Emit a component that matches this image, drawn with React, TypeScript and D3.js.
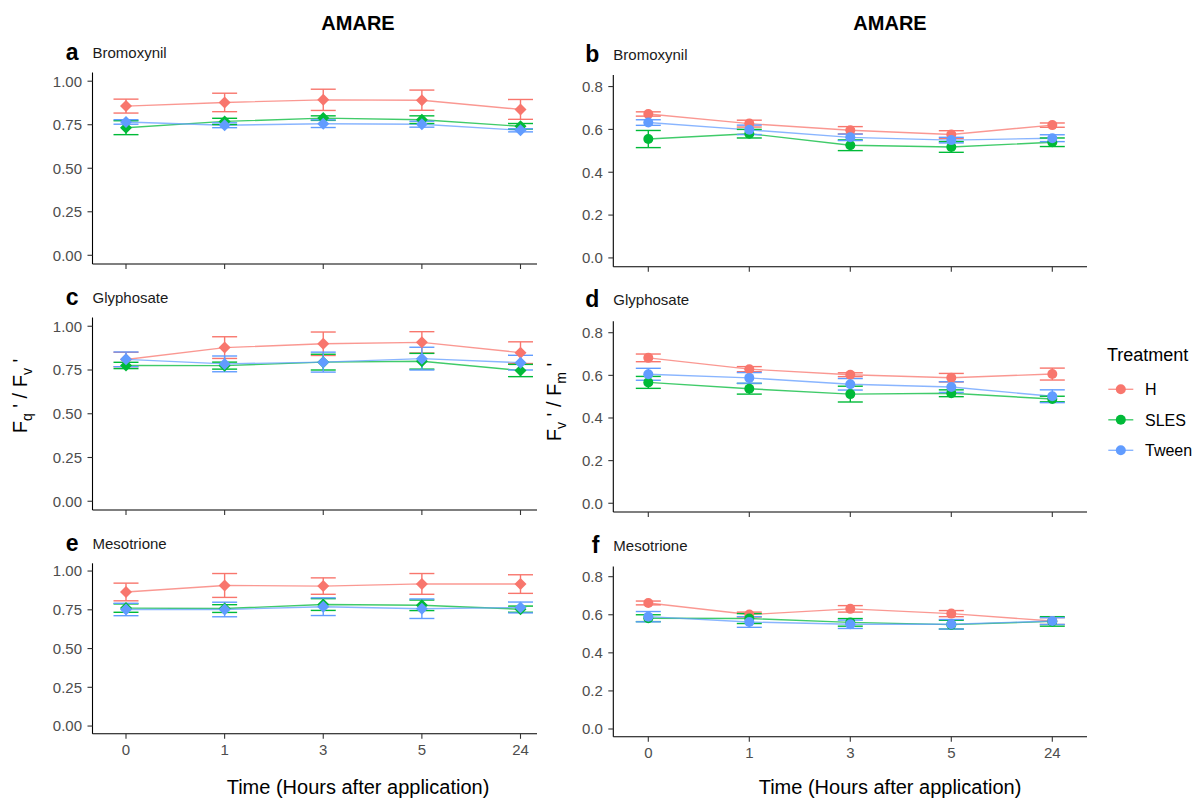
import React from "react";
import * as d3 from "d3";

// Sampling times (hours after application) and treatment groups
const timePoints = ["0", "1", "3", "5", "24"];
const treatments = ["H", "SLES", "Tween"];
const treatmentColors = ["#F8766D", "#00BA38", "#619CFF"];

// Fq'/Fv' means and standard errors — Bromoxynil
const bromFqH = [0.857, 0.878, 0.893, 0.891, 0.838];
const bromFqHse = [0.04, 0.053, 0.061, 0.058, 0.057];
const bromFqSLES = [0.733, 0.769, 0.788, 0.779, 0.741];
const bromFqSLESse = [0.04, 0.018, 0.013, 0.022, 0.016];
const bromFqTween = [0.766, 0.747, 0.756, 0.753, 0.718];
const bromFqTweense = [0.013, 0.014, 0.022, 0.017, 0.009];

// Fq'/Fv' — Glyphosate
const glyFqH = [0.81, 0.878, 0.9, 0.908, 0.849];
const glyFqHse = [0.041, 0.062, 0.067, 0.061, 0.062];
const glyFqSLES = [0.776, 0.775, 0.795, 0.8, 0.747];
const glyFqSLESse = [0.018, 0.02, 0.045, 0.045, 0.035];
const glyFqTween = [0.811, 0.785, 0.795, 0.815, 0.792];
const glyFqTweense = [0.042, 0.045, 0.057, 0.065, 0.042];

// Fq'/Fv' — Mesotrione
const mesoFqH = [0.865, 0.907, 0.903, 0.917, 0.916];
const mesoFqHse = [0.057, 0.077, 0.053, 0.067, 0.06];
const mesoFqSLES = [0.761, 0.758, 0.784, 0.779, 0.754];
const mesoFqSLESse = [0.027, 0.025, 0.038, 0.034, 0.02];
const mesoFqTween = [0.752, 0.752, 0.77, 0.757, 0.765];
const mesoFqTweense = [0.04, 0.047, 0.057, 0.063, 0.035];

// Fv'/Fm' — Bromoxynil
const bromFvH = [0.672, 0.627, 0.596, 0.576, 0.62];
const bromFvHse = [0.01, 0.016, 0.017, 0.018, 0.01];
const bromFvSLES = [0.555, 0.58, 0.526, 0.518, 0.54];
const bromFvSLESse = [0.04, 0.02, 0.025, 0.025, 0.02];
const bromFvTween = [0.632, 0.598, 0.563, 0.55, 0.559];
const bromFvTweense = [0.013, 0.022, 0.015, 0.013, 0.016];

// Fv'/Fm' — Glyphosate
const glyFvH = [0.682, 0.629, 0.603, 0.589, 0.606];
const glyFvHse = [0.018, 0.012, 0.009, 0.02, 0.028];
const glyFvSLES = [0.567, 0.537, 0.512, 0.516, 0.489];
const glyFvSLESse = [0.028, 0.025, 0.037, 0.016, 0.013];
const glyFvTween = [0.605, 0.588, 0.558, 0.545, 0.502];
const glyFvTweense = [0.028, 0.025, 0.027, 0.025, 0.03];

// Fv'/Fm' — Mesotrione
const mesoFvH = [0.662, 0.601, 0.631, 0.606, 0.567];
const mesoFvHse = [0.01, 0.013, 0.017, 0.016, 0.018];
const mesoFvSLES = [0.582, 0.58, 0.56, 0.548, 0.565];
const mesoFvSLESse = [0.018, 0.026, 0.02, 0.023, 0.025];
const mesoFvTween = [0.59, 0.562, 0.55, 0.55, 0.567];
const mesoFvTweense = [0.027, 0.028, 0.022, 0.025, 0.018];

// Axis ticks
const fqTicks = [0, 0.25, 0.5, 0.75, 1.0];
const fvTicks = [0, 0.2, 0.4, 0.6, 0.8];

const FONT = "'Liberation Sans', Arial, Helvetica, sans-serif";

type Series = { mean: number[]; se: number[] };
type Panel = {
  letter: string;
  herbicide: string;
  series: Series[];
  x0: number;
  x1: number;
  xFirst: number;
  xLast: number;
  yTop: number;
  yBottom: number;
  domain: [number, number];
  ticks: number[];
  fmt: string;
  shape: "diamond" | "circle";
  showXLabels: boolean;
  labelBaseline: number;
};

const leftCol = { x0: 92.5, x1: 537, xFirst: 126, xLast: 520.5, shape: "diamond" as const };
const rightCol = { x0: 613.3, x1: 1087, xFirst: 648.3, xLast: 1052.3, shape: "circle" as const };

const panels: Panel[] = [
  {
    ...leftCol, letter: "a", herbicide: "Bromoxynil",
    series: [
      { mean: bromFqH, se: bromFqHse },
      { mean: bromFqSLES, se: bromFqSLESse },
      { mean: bromFqTween, se: bromFqTweense },
    ],
    yTop: 72.5, yBottom: 264, domain: [-0.05, 1.05], ticks: fqTicks, fmt: ".2f",
    showXLabels: false, labelBaseline: 58,
  },
  {
    ...leftCol, letter: "c", herbicide: "Glyphosate",
    series: [
      { mean: glyFqH, se: glyFqHse },
      { mean: glyFqSLES, se: glyFqSLESse },
      { mean: glyFqTween, se: glyFqTweense },
    ],
    yTop: 317.5, yBottom: 510, domain: [-0.05, 1.05], ticks: fqTicks, fmt: ".2f",
    showXLabels: false, labelBaseline: 303,
  },
  {
    ...leftCol, letter: "e", herbicide: "Mesotrione",
    series: [
      { mean: mesoFqH, se: mesoFqHse },
      { mean: mesoFqSLES, se: mesoFqSLESse },
      { mean: mesoFqTween, se: mesoFqTweense },
    ],
    yTop: 563.3, yBottom: 733.8, domain: [-0.05, 1.05], ticks: fqTicks, fmt: ".2f",
    showXLabels: true, labelBaseline: 548.5,
  },
  {
    ...rightCol, letter: "b", herbicide: "Bromoxynil",
    series: [
      { mean: bromFvH, se: bromFvHse },
      { mean: bromFvSLES, se: bromFvSLESse },
      { mean: bromFvTween, se: bromFvTweense },
    ],
    yTop: 75, yBottom: 266.7, domain: [-0.041, 0.854], ticks: fvTicks, fmt: ".1f",
    showXLabels: false, labelBaseline: 59.5,
  },
  {
    ...rightCol, letter: "d", herbicide: "Glyphosate",
    series: [
      { mean: glyFvH, se: glyFvHse },
      { mean: glyFvSLES, se: glyFvSLESse },
      { mean: glyFvTween, se: glyFvTweense },
    ],
    yTop: 321.2, yBottom: 512, domain: [-0.041, 0.854], ticks: fvTicks, fmt: ".1f",
    showXLabels: false, labelBaseline: 305,
  },
  {
    ...rightCol, letter: "f", herbicide: "Mesotrione",
    series: [
      { mean: mesoFvH, se: mesoFvHse },
      { mean: mesoFvSLES, se: mesoFvSLESse },
      { mean: mesoFvTween, se: mesoFvTweense },
    ],
    yTop: 566.4, yBottom: 736.8, domain: [-0.041, 0.854], ticks: fvTicks, fmt: ".1f",
    showXLabels: true, labelBaseline: 551,
  },
];

function Marker({ x, y, shape, color }: { x: number; y: number; shape: string; color: string }) {
  if (shape === "diamond") {
    const r = 6;
    return <path d={`M${x},${y - r}L${x + r},${y}L${x},${y + r}L${x - r},${y}Z`} fill={color} />;
  }
  return <circle cx={x} cy={y} r={5} fill={color} />;
}

function PanelView({ p }: { p: Panel }) {
  const x = d3.scalePoint<string>().domain(timePoints).range([p.xFirst, p.xLast]);
  const y = d3.scaleLinear().domain(p.domain).range([p.yBottom, p.yTop]);
  const fmt = d3.format(p.fmt);
  const capHalf = 12.5;
  const tickLen = 5;

  const line = d3
    .line<number>()
    .x((_, i) => x(timePoints[i]) as number)
    .y((d) => y(d));

  return (
    <g>
      {/* panel letter and herbicide name */}
      <text x={p.x0 - 14} y={p.labelBaseline + 2} textAnchor="end" fontFamily={FONT} fontWeight="bold" fontSize={23} fill="#000">
        {p.letter}
      </text>
      <text x={p.x0} y={p.labelBaseline} fontFamily={FONT} fontSize={15} fill="#1a1a1a">
        {p.herbicide}
      </text>

      {/* y axis */}
      <line x1={p.x0} x2={p.x0} y1={p.yTop} y2={p.yBottom} stroke="#000" strokeWidth={1.1} />
      {p.ticks.map((t) => (
        <g key={t}>
          <line x1={p.x0 - tickLen} x2={p.x0} y1={y(t)} y2={y(t)} stroke="#333" strokeWidth={1.1} />
          <text x={p.x0 - 10.5} y={y(t)} dy="0.36em" textAnchor="end" fontFamily={FONT} fontSize={15} fill="#4D4D4D">
            {fmt(t)}
          </text>
        </g>
      ))}

      {/* x axis */}
      <line x1={p.x0} x2={p.x1} y1={p.yBottom} y2={p.yBottom} stroke="#000" strokeWidth={1.1} />
      {timePoints.map((t) => (
        <g key={t}>
          <line x1={x(t)} x2={x(t)} y1={p.yBottom} y2={p.yBottom + tickLen} stroke="#333" strokeWidth={1.1} />
          {p.showXLabels && (
            <text x={x(t)} y={p.yBottom + 21} textAnchor="middle" fontFamily={FONT} fontSize={15} fill="#4D4D4D">
              {t}
            </text>
          )}
        </g>
      ))}

      {/* connecting lines */}
      {p.series.map((s, i) => (
        <path key={`l${i}`} d={line(s.mean) || ""} fill="none" stroke={treatmentColors[i]} strokeWidth={1.4} strokeOpacity={0.75} />
      ))}

      {/* error bars */}
      {p.series.map((s, i) =>
        s.mean.map((m, j) => {
          const cx = x(timePoints[j]) as number;
          const yHi = y(m + s.se[j]);
          const yLo = y(m - s.se[j]);
          return (
            <g key={`e${i}-${j}`} stroke={treatmentColors[i]} strokeWidth={1.4}>
              <line x1={cx} x2={cx} y1={yHi} y2={yLo} />
              <line x1={cx - capHalf} x2={cx + capHalf} y1={yHi} y2={yHi} />
              <line x1={cx - capHalf} x2={cx + capHalf} y1={yLo} y2={yLo} />
            </g>
          );
        })
      )}

      {/* means */}
      {p.series.map((s, i) =>
        s.mean.map((m, j) => (
          <Marker key={`p${i}-${j}`} x={x(timePoints[j]) as number} y={y(m)} shape={p.shape} color={treatmentColors[i]} />
        ))
      )}
    </g>
  );
}

export default function App() {
  const legendRows = [389.3, 419.8, 450.3];
  return (
    <svg
      width={1204}
      height={802}
      viewBox="0 0 1204 802"
      style={{ position: "absolute", left: 0, top: 0, background: "#fff" }}
    >
      <rect width={1204} height={802} fill="#fff" />

      {/* column titles */}
      <text x={358} y={30} textAnchor="middle" fontFamily={FONT} fontWeight="bold" fontSize={20} fill="#000">
        AMARE
      </text>
      <text x={890} y={30} textAnchor="middle" fontFamily={FONT} fontWeight="bold" fontSize={20} fill="#000">
        AMARE
      </text>

      {panels.map((p) => (
        <PanelView key={p.letter} p={p} />
      ))}

      {/* y axis titles */}
      <text transform="translate(27,396) rotate(-90)" textAnchor="middle" fontFamily={FONT} fontSize={20} fill="#000">
        <tspan>F</tspan>
        <tspan fontSize={14} dy={5}>q</tspan>
        <tspan dy={-5}>{" ' / F"}</tspan>
        <tspan fontSize={14} dy={5}>v</tspan>
        <tspan dy={-5}>{" '"}</tspan>
      </text>
      <text transform="translate(561,402) rotate(-90)" textAnchor="middle" fontFamily={FONT} fontSize={20} fill="#000">
        <tspan>F</tspan>
        <tspan fontSize={14} dy={5}>v</tspan>
        <tspan dy={-5}>{" ' / F"}</tspan>
        <tspan fontSize={14} dy={5}>m</tspan>
        <tspan dy={-5}>{" '"}</tspan>
      </text>

      {/* x axis titles */}
      <text x={358} y={794} textAnchor="middle" fontFamily={FONT} fontSize={20} fill="#000">
        Time (Hours after application)
      </text>
      <text x={890} y={794} textAnchor="middle" fontFamily={FONT} fontSize={20} fill="#000">
        Time (Hours after application)
      </text>

      {/* legend */}
      <text x={1107} y={360.5} fontFamily={FONT} fontSize={18} fill="#000">
        Treatment
      </text>
      {treatments.map((t, i) => (
        <g key={t}>
          <line x1={1108.3} x2={1133.3} y1={legendRows[i]} y2={legendRows[i]} stroke={treatmentColors[i]} strokeWidth={1.4} strokeOpacity={0.75} />
          <circle cx={1120.8} cy={legendRows[i]} r={5} fill={treatmentColors[i]} />
          <text x={1145} y={legendRows[i]} dy="0.36em" fontFamily={FONT} fontSize={16} fill="#000">
            {t}
          </text>
        </g>
      ))}
    </svg>
  );
}
